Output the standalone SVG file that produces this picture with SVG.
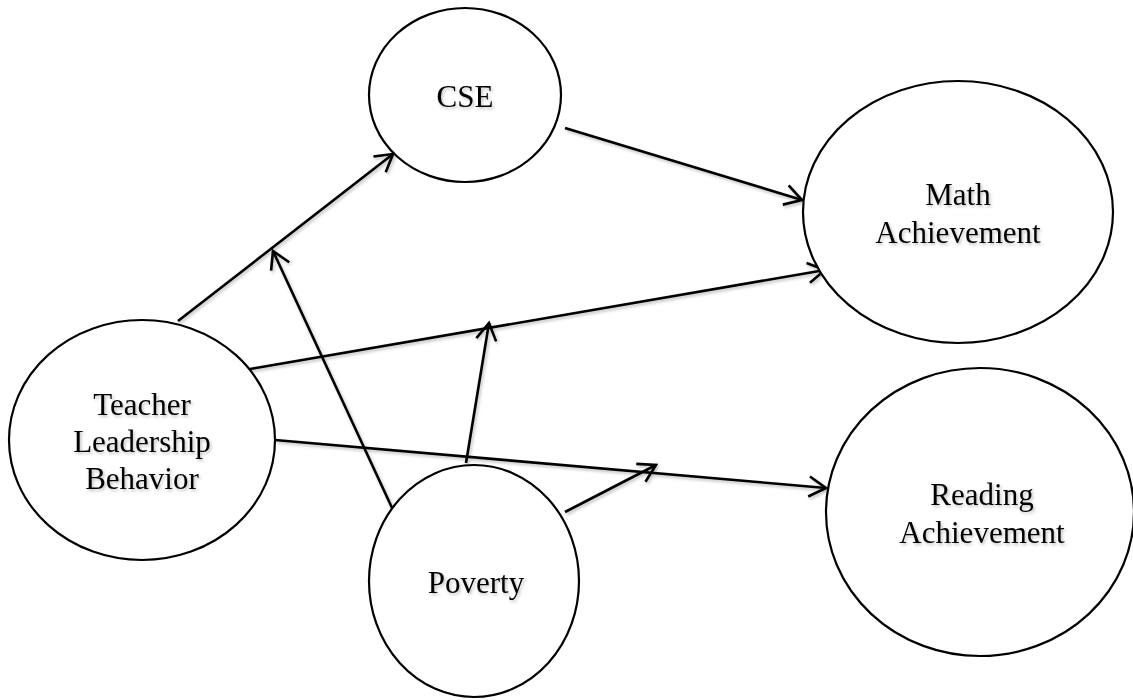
<svg xmlns="http://www.w3.org/2000/svg" width="1133" height="700" viewBox="0 0 1133 700">
<style>
.node ellipse{fill:#fff;stroke:#000;stroke-width:2.2}
.lbl{font-family:"Liberation Serif","Times New Roman",serif;font-size:31px;fill:#000;text-anchor:middle}
.edge{stroke:#000;stroke-width:2.6;fill:none;marker-end:url(#arr)}
</style>
<defs>
<filter id="sh" x="-10%" y="-10%" width="130%" height="130%">
<feDropShadow dx="1.5" dy="2" stdDeviation="1.5" flood-color="#000" flood-opacity="0.25"/>
</filter>
<marker id="arr" viewBox="0 0 24 24" refX="20" refY="12" markerWidth="24" markerHeight="24" markerUnits="userSpaceOnUse" orient="auto">
<path d="M3,2 L20,12 L3,22" fill="none" stroke="#000" stroke-width="2.6"/>
</marker>
</defs>
<rect width="1133" height="700" fill="#fff"/>
<g id="connectors" filter="url(#sh)">
<line class="edge" x1="178" y1="321" x2="393" y2="154"/>
<line class="edge" x1="393" y1="510" x2="273" y2="251"/>
<line class="edge" x1="565" y1="128" x2="802" y2="200"/>
<line class="edge" x1="250" y1="369" x2="825" y2="270"/>
<line class="edge" x1="466" y1="463" x2="489" y2="323"/>
<line class="edge" x1="275" y1="440" x2="826" y2="488"/>
<line class="edge" x1="565" y1="512" x2="656" y2="465"/>
</g>
<g id="cse" class="node">
<ellipse cx="465" cy="95" rx="96" ry="87"/>
<text class="lbl" x="465" y="107" filter="url(#sh)">CSE</text>
</g>
<g id="math" class="node">
<ellipse cx="958" cy="212" rx="155" ry="131"/>
<text class="lbl" x="958" y="205" filter="url(#sh)">Math</text>
<text class="lbl" x="958" y="243" filter="url(#sh)">Achievement</text>
</g>
<g id="teacher" class="node">
<ellipse cx="142" cy="440" rx="133" ry="120"/>
<text class="lbl" x="142" y="415" filter="url(#sh)">Teacher</text>
<text class="lbl" x="142" y="452" filter="url(#sh)">Leadership</text>
<text class="lbl" x="142" y="489" filter="url(#sh)">Behavior</text>
</g>
<g id="poverty" class="node">
<ellipse cx="474" cy="581" rx="105" ry="116"/>
<text class="lbl" x="476" y="593" filter="url(#sh)">Poverty</text>
</g>
<g id="reading" class="node">
<ellipse cx="980" cy="512" rx="154" ry="144"/>
<text class="lbl" x="982" y="505" filter="url(#sh)">Reading</text>
<text class="lbl" x="982" y="543" filter="url(#sh)">Achievement</text>
</g>
</svg>
